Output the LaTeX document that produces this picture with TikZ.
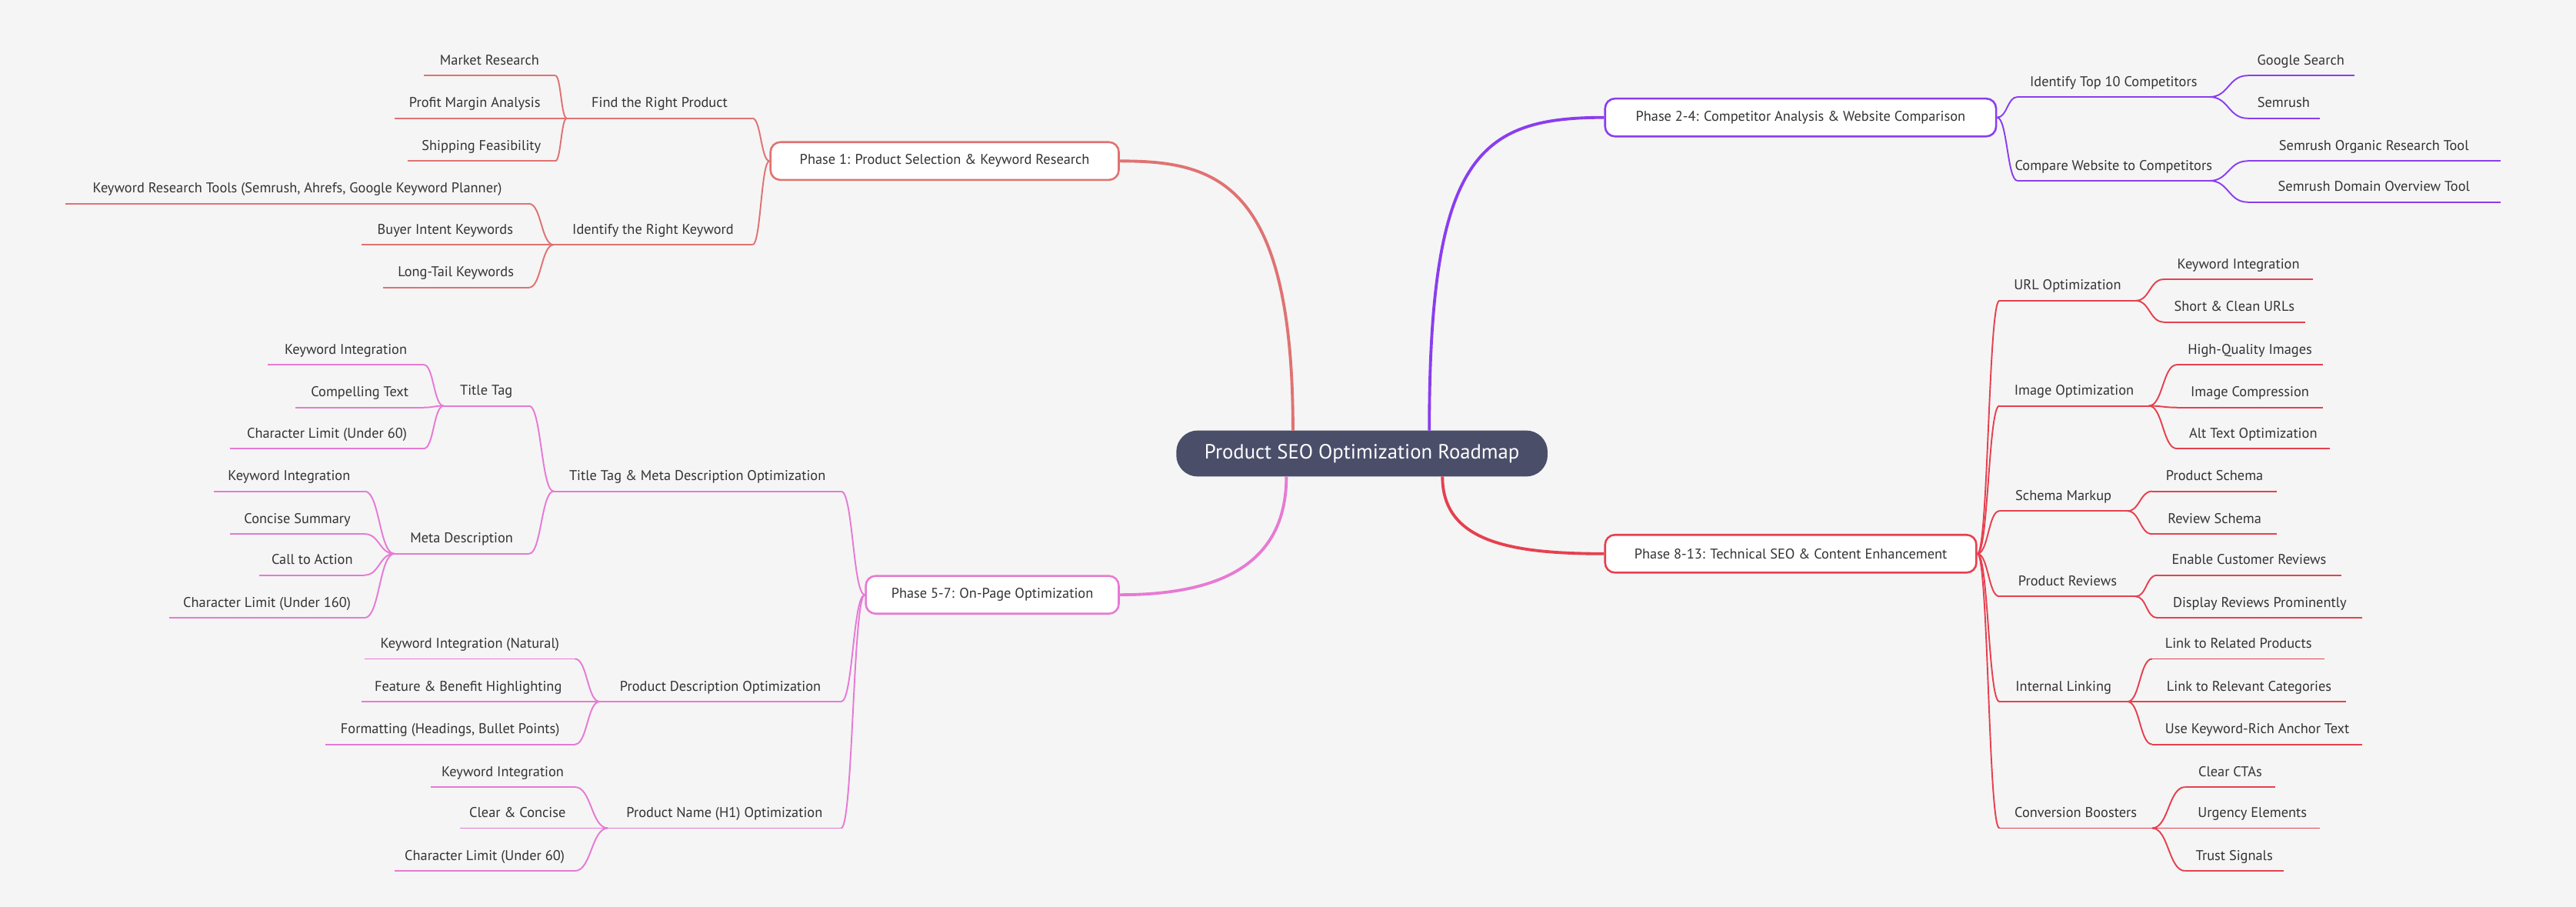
\documentclass[tikz,border=0pt]{standalone}
\usepackage{fontspec}
\setmainfont{PT Sans}
\usetikzlibrary{calc}
\definecolor{bg}{HTML}{F5F5F5}
\definecolor{cA}{HTML}{E07272}
\definecolor{cB}{HTML}{8A3DF0}
\definecolor{cC}{HTML}{E6404F}
\definecolor{cD}{HTML}{E67AD4}
\definecolor{rootc}{HTML}{4A4E69}
\definecolor{txt}{HTML}{333333}
\tikzset{
  ln/.style={line width=0.9pt},
  lbl/.style={inner sep=0pt, text=txt, font=\fontsize{8.6}{10}\selectfont},
  phase/.style={draw=#1, line width=1.2pt, fill=white, rounded corners=6pt, minimum height=23pt, inner sep=0pt, text=txt, font=\fontsize{8.6}{10}\selectfont},
  rootedge/.style={line width=1.8pt}
}
\newcommand\lf[6]{%
  \coordinate (#1-L) at (#2,#4);
  \coordinate (#1-R) at (#3,#4);
  \draw[#6,ln] (#1-L) -- (#1-R);
  \node[lbl,anchor=base] (#1) at ({(#2+#3)/2},{#4-6.5}) {#5};}
\newcommand\cn[3]{%
  \coordinate (tmpm) at ($(#1)!0.5!(#2)$);
  \draw[#3,ln] (#1) .. controls (tmpm |- #1) and (tmpm |- #2) .. (#2);}
\begin{document}
\begin{tikzpicture}[x=1pt,y=-1pt]
\fill[bg] (0,0) rectangle (1568,552);
\useasboundingbox (0,0) rectangle (1568,552);
% root and phases
\node[fill=rootc, rounded corners=13pt, minimum width=226pt, minimum height=28pt, text=white, font=\fontsize{12.5}{14}\selectfont] (root) at (829,276) {Product SEO Optimization Roadmap};
\node[phase=cA, minimum width=212pt] (p1) at (575,98) {Phase 1: Product Selection \& Keyword Research};
\node[phase=cB, minimum width=238pt] (p2) at (1096,71.5) {Phase 2-4: Competitor Analysis \& Website Comparison};
\node[phase=cC, minimum width=226pt] (p3) at (1090,337) {Phase 8-13: Technical SEO \& Content Enhancement};
\node[phase=cD, minimum width=154pt] (p4) at (604,362) {Phase 5-7: On-Page Optimization};
\coordinate (r1) at (787,262); \coordinate (r2) at (870,262);
\coordinate (r3) at (878,290); \coordinate (r4) at (783,290);
\draw[cA,rootedge] (r1) .. controls (787,110) and (740,98) .. (p1.east);
\draw[cB,rootedge] (r2) .. controls (870,95) and (900,71.5) .. (p2.west);
\draw[cC,rootedge] (r3) .. controls (878,330) and (920,337) .. (p3.west);
\draw[cD,rootedge] (r4) .. controls (783,345) and (740,362) .. (p4.east);
% Phase 1
\lf{a1}{345}{458}{72}{Find the Right Product}{cA}
\lf{a11}{258}{338}{46}{Market Research}{cA}
\lf{a12}{240}{338}{72}{Profit Margin Analysis}{cA}
\lf{a13}{248}{338}{98}{Shipping Feasibility}{cA}
\lf{a2}{337}{458}{149}{Identify the Right Keyword}{cA}
\lf{a21}{40}{322}{124}{Keyword Research Tools (Semrush, Ahrefs, Google Keyword Planner)}{cA}
\lf{a22}{220}{322}{149}{Buyer Intent Keywords}{cA}
\lf{a23}{233}{322}{175}{Long-Tail Keywords}{cA}
\cn{p1.west}{a1-R}{cA} \cn{p1.west}{a2-R}{cA}
\cn{a1-L}{a11-R}{cA} \cn{a1-L}{a12-R}{cA} \cn{a1-L}{a13-R}{cA}
\cn{a2-L}{a21-R}{cA} \cn{a2-L}{a22-R}{cA} \cn{a2-L}{a23-R}{cA}
% Phase 5-7
\lf{d1}{337}{512}{299}{Title Tag \& Meta Description Optimization}{cD}
\lf{d11}{270}{322}{247}{Title Tag}{cD}
\lf{d111}{163}{258}{222}{Keyword Integration}{cD}
\lf{d112}{180}{258}{248}{Compelling Text}{cD}
\lf{d113}{140}{258}{273}{Character Limit (Under 60)}{cD}
\lf{d12}{240}{322}{337}{Meta Description}{cD}
\lf{d121}{130}{222}{299}{Keyword Integration}{cD}
\lf{d122}{140}{222}{325}{Concise Summary}{cD}
\lf{d123}{158}{222}{350}{Call to Action}{cD}
\lf{d124}{103}{222}{376}{Character Limit (Under 160)}{cD}
\lf{d2}{365}{512}{427}{Product Description Optimization}{cD}
\lf{d21}{222}{350}{401}{Keyword Integration (Natural)}{cD}
\lf{d22}{220}{350}{427}{Feature \& Benefit Highlighting}{cD}
\lf{d23}{198}{350}{453}{Formatting (Headings, Bullet Points)}{cD}
\lf{d3}{370}{512}{504}{Product Name (H1) Optimization}{cD}
\lf{d31}{262}{350}{479}{Keyword Integration}{cD}
\lf{d32}{280}{350}{504}{Clear \& Concise}{cD}
\lf{d33}{240}{350}{530}{Character Limit (Under 60)}{cD}
\cn{p4.west}{d1-R}{cD} \cn{p4.west}{d2-R}{cD} \cn{p4.west}{d3-R}{cD}
\cn{d1-L}{d11-R}{cD} \cn{d1-L}{d12-R}{cD}
\cn{d11-L}{d111-R}{cD} \cn{d11-L}{d112-R}{cD} \cn{d11-L}{d113-R}{cD}
\cn{d12-L}{d121-R}{cD} \cn{d12-L}{d122-R}{cD} \cn{d12-L}{d123-R}{cD} \cn{d12-L}{d124-R}{cD}
\cn{d2-L}{d21-R}{cD} \cn{d2-L}{d22-R}{cD} \cn{d2-L}{d23-R}{cD}
\cn{d3-L}{d31-R}{cD} \cn{d3-L}{d32-R}{cD} \cn{d3-L}{d33-R}{cD}
% Phase 2-4
\lf{b1}{1228}{1345}{59}{Identify Top 10 Competitors}{cB}
\lf{b11}{1368}{1433}{46}{Google Search}{cB}
\lf{b12}{1368}{1412}{72}{Semrush}{cB}
\lf{b2}{1228}{1345}{110}{Compare Website to Competitors}{cB}
\lf{b21}{1368}{1522}{98}{Semrush Organic Research Tool}{cB}
\lf{b22}{1368}{1522}{123}{Semrush Domain Overview Tool}{cB}
\cn{p2.east}{b1-L}{cB} \cn{p2.east}{b2-L}{cB}
\cn{b1-R}{b11-L}{cB} \cn{b1-R}{b12-L}{cB}
\cn{b2-R}{b21-L}{cB} \cn{b2-R}{b22-L}{cB}
% Phase 8-13
\lf{c1}{1217}{1300}{183}{URL Optimization}{cC}
\lf{c11}{1317}{1408}{170}{Keyword Integration}{cC}
\lf{c12}{1317}{1403}{196}{Short \& Clean URLs}{cC}
\lf{c2}{1217}{1308}{247}{Image Optimization}{cC}
\lf{c21}{1325}{1414}{222}{High-Quality Images}{cC}
\lf{c22}{1325}{1414}{248}{Image Compression}{cC}
\lf{c23}{1325}{1418}{273}{Alt Text Optimization}{cC}
\lf{c3}{1217}{1295}{311}{Schema Markup}{cC}
\lf{c31}{1310}{1386}{299}{Product Schema}{cC}
\lf{c32}{1310}{1386}{325}{Review Schema}{cC}
\lf{c4}{1217}{1300}{363}{Product Reviews}{cC}
\lf{c41}{1313}{1425}{350}{Enable Customer Reviews}{cC}
\lf{c42}{1313}{1438}{376}{Display Reviews Prominently}{cC}
\lf{c5}{1217}{1295}{427}{Internal Linking}{cC}
\lf{c51}{1310}{1415}{401}{Link to Related Products}{cC}
\lf{c52}{1310}{1428}{427}{Link to Relevant Categories}{cC}
\lf{c53}{1310}{1438}{453}{Use Keyword-Rich Anchor Text}{cC}
\lf{c6}{1217}{1310}{504}{Conversion Boosters}{cC}
\lf{c61}{1330}{1385}{479}{Clear CTAs}{cC}
\lf{c62}{1330}{1412}{504}{Urgency Elements}{cC}
\lf{c63}{1330}{1390}{530}{Trust Signals}{cC}
\foreach \k in {1,...,6} {\cn{p3.east}{c\k-L}{cC}}
\cn{c1-R}{c11-L}{cC} \cn{c1-R}{c12-L}{cC}
\cn{c2-R}{c21-L}{cC} \cn{c2-R}{c22-L}{cC} \cn{c2-R}{c23-L}{cC}
\cn{c3-R}{c31-L}{cC} \cn{c3-R}{c32-L}{cC}
\cn{c4-R}{c41-L}{cC} \cn{c4-R}{c42-L}{cC}
\cn{c5-R}{c51-L}{cC} \cn{c5-R}{c52-L}{cC} \cn{c5-R}{c53-L}{cC}
\cn{c6-R}{c61-L}{cC} \cn{c6-R}{c62-L}{cC} \cn{c6-R}{c63-L}{cC}
\end{tikzpicture}
\end{document}
